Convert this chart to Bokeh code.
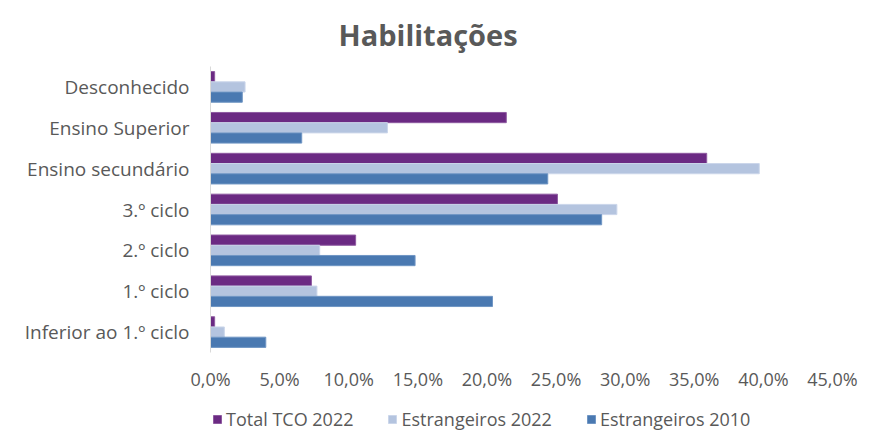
from bokeh.plotting import figure
from bokeh.layouts import column
from bokeh.models import ColumnDataSource, FactorRange, FixedTicker, Legend, LegendItem, Range1d
from bokeh.transform import dodge
from bokeh.embed import file_html
from bokeh.resources import INLINE

categories = ["Desconhecido", "Ensino Superior", "Ensino secundário", "3.º ciclo",
              "2.º ciclo", "1.º ciclo", "Inferior ao 1.º ciclo"]
total_tco_2022 = [0.3, 21.4, 35.9, 25.1, 10.5, 7.3, 0.3]
estrangeiros_2022 = [2.5, 12.8, 39.7, 29.4, 7.9, 7.7, 1.0]
estrangeiros_2010 = [2.3, 6.6, 24.4, 28.3, 14.8, 20.4, 4.0]
series_names = ["Total TCO 2022", "Estrangeiros 2022", "Estrangeiros 2010"]
tick_values = [0, 5, 10, 15, 20, 25, 30, 35, 40, 45]
tick_labels = ["0,0%", "5,0%", "10,0%", "15,0%", "20,0%", "25,0%", "30,0%", "35,0%", "40,0%", "45,0%"]

colors = ["#6B2A83", "#B4C4DF", "#4A79B1"]
edge = ["#8E5AA0", "#CBD6EA", "#7096C4"]
FONT = "Open Sans"
GRAY = "#595959"

src = ColumnDataSource(dict(cat=categories, a=total_tco_2022, b=estrangeiros_2022, c=estrangeiros_2010))

p = figure(width=869, height=403, output_backend="svg", toolbar_location=None,
           y_range=FactorRange(*list(reversed(categories))), x_range=Range1d(0, 45),
           min_border_left=210, min_border_right=37, min_border_top=66, min_border_bottom=51)

offsets = [0.25, 0.0, -0.25]
for key, off, col, ec in zip(["a", "b", "c"], offsets, colors, edge):
    p.hbar(y=dodge("cat", off, range=p.y_range), right=key, left=0, height=0.25,
           source=src, fill_color=col, line_color=ec, line_width=1)

p.title.text = "Habilitações"
p.title.align = "left"
p.title.offset = 128
p.title.vertical_align = "top"
p.title.text_font = FONT
p.title.text_font_size = "29px"
p.title.text_font_style = "bold"
p.title.text_color = GRAY
p.title.standoff = 22

p.xgrid.visible = False
p.ygrid.visible = False
p.outline_line_color = None

p.xaxis.ticker = FixedTicker(ticks=tick_values)
p.xaxis.major_label_overrides = {v: l for v, l in zip(tick_values, tick_labels)}
p.xaxis.axis_line_color = None
p.xaxis.major_tick_line_color = None
p.xaxis.minor_tick_line_color = None
p.xaxis.major_tick_out = 0
p.xaxis.major_label_text_font = FONT
p.xaxis.major_label_text_font_size = "18px"
p.xaxis.major_label_text_color = GRAY
p.xaxis.major_label_standoff = 14

p.yaxis.axis_line_color = "#D9D9D9"
p.yaxis.axis_line_width = 1
p.yaxis.major_tick_line_color = None
p.yaxis.minor_tick_line_color = None
p.yaxis.major_tick_out = 0
p.yaxis.major_label_text_font = FONT
p.yaxis.major_label_text_font_size = "19px"
p.yaxis.major_label_text_color = GRAY
p.yaxis.major_label_standoff = 21

# legend strip below the chart (its frame is aligned with the chart's frame)
lg = figure(width=869, height=28, output_backend="svg", toolbar_location=None,
            x_range=Range1d(0, 45), y_range=Range1d(50, 51),
            x_axis_location=None, y_axis_location=None,
            min_border_left=0, min_border_right=0, min_border_top=0, min_border_bottom=0)
lg.xgrid.visible = False
lg.ygrid.visible = False
lg.outline_line_color = None
legend_renderers = []
for key, col, ec in zip(["a", "b", "c"], colors, edge):
    r = lg.hbar(y=0, right=key, left=0, height=0.25, source=src,
                fill_color=col, line_color=ec, line_width=1)
    legend_renderers.append(r)

legend = Legend(items=[LegendItem(label=n, renderers=[r]) for n, r in zip(series_names, legend_renderers)],
                orientation="horizontal", location=(2, 0),
                label_text_font=FONT, label_text_font_size="18px", label_text_color=GRAY,
                glyph_width=10, glyph_height=10, label_standoff=4, spacing=34,
                border_line_color=None, background_fill_alpha=0, padding=0, margin=0)
lg.add_layout(legend)

layout = column(p, lg, spacing=0)
open("out.html", "w").write(file_html(layout, INLINE))
